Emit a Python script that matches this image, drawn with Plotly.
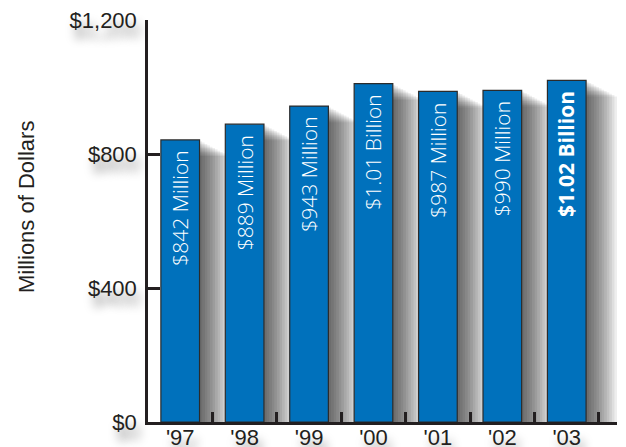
import plotly.graph_objects as go

years = ["'97", "'98", "'99", "'00", "'01", "'02", "'03"]
values = [842, 889, 943, 1010, 987, 990, 1020]
labels = ["$842 Million", "$889 Million", "$943 Million", "$1.01 Billion",
          "$987 Million", "$990 Million", "$1.02 Billion"]
y_ticks = [0, 400, 800, 1200]
y_tick_text = ["$" + format(v, ",") for v in y_ticks]

BLUE = "#0071bc"
INK = "#231f20"

fig = go.Figure()

# soft drop shadows (layered translucent copies of the bars, shifted right)
n_layers = 12
for k in range(1, n_layers + 1):
    fig.add_trace(go.Bar(
        x=years, y=[v - 4 * k for v in values],
        width=0.6, offset=-0.3 + 0.04 * k,
        marker=dict(color="rgba(0,0,0,0.065)", line=dict(width=0)),
        hoverinfo="skip", showlegend=False,
    ))

fig.add_trace(go.Bar(
    x=years, y=values, width=0.6, offset=-0.3,
    marker=dict(color=BLUE, line=dict(color="#2b2b2b", width=1.2)),
    showlegend=False,
))

last = len(values) - 1
for i, (yr, v, lab) in enumerate(zip(years, values, labels)):
    fig.add_annotation(
        x=yr, y=v, xref="x", yref="y", text=lab, showarrow=False,
        textangle=-90, yanchor="top", xanchor="center", yshift=-9,
        font=dict(family="Open Sans, Liberation Sans, sans-serif", size=21,
                  color="white", weight=("bold" if i == last else 300)),
    )

fig.add_annotation(
    text="Millions of Dollars", xref="paper", yref="paper",
    x=0, y=0.5, xshift=-122, yshift=14, textangle=-90, showarrow=False,
    xanchor="center", yanchor="middle",
    font=dict(family="Liberation Sans, Arial, sans-serif", size=22, color=INK),
)

shadow = "4px 10px 10px rgba(0,0,0,0.4)"
fig.update_layout(
    width=618, height=439,
    margin=dict(l=140, r=9, t=12, b=25, autoexpand=False),
    paper_bgcolor="white", plot_bgcolor="white",
    barmode="overlay",
    font=dict(family="Liberation Sans, Arial, sans-serif", color=INK),
    xaxis=dict(
        type="category", showline=True, linecolor=INK, linewidth=2.5,
        ticks="inside", tickson="boundaries", ticklen=10, tickwidth=2.5,
        tickcolor=INK, showgrid=False, zeroline=False, automargin=False,
        tickfont=dict(size=22, color=INK, shadow=shadow),
        ticklabelstandoff=-6, ticklabeloverflow="allow",
    ),
    yaxis=dict(
        range=[0, 1200], tickvals=y_ticks, ticktext=y_tick_text,
        showline=True, linecolor=INK, linewidth=2.5,
        ticks="inside", ticklen=12, tickwidth=2.5, tickcolor=INK,
        showgrid=False, zeroline=False, automargin=False,
        tickfont=dict(size=22, color=INK, shadow=shadow),
        ticklabelstandoff=4, ticklabeloverflow="allow",
    ),
)

fig.write_html("out.html")
